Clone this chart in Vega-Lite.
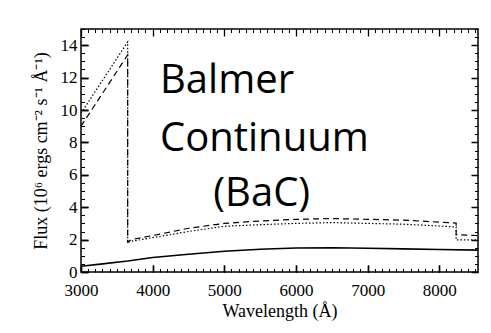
{
  "$schema": "https://vega.github.io/schema/vega-lite/v6.json",
  "width": 397,
  "height": 243,
  "autosize": {"type": "none"},
  "padding": {"left": 81, "top": 29, "right": 13, "bottom": 61},
  "background": "white",
  "config": {
    "view": {"stroke": "black", "strokeWidth": 1.5},
    "axis": {"domain": false, "grid": false, "tickColor": "black", "tickWidth": 1.5, "gridColor": "black", "gridOpacity": 1, "gridWidth": 1.3, "format": "d", "labelColor": "black", "titleColor": "black", "labelFont": "Liberation Serif", "titleFont": "Liberation Serif", "labelFontSize": 17, "titleFontSize": 18, "titleFontWeight": "normal"}
  },
  "datasets": {
    "solid": [
      {"w": 3000, "f": 0.35, "i": 0}, {"w": 3300, "f": 0.5, "i": 1}, {"w": 3651, "f": 0.68, "i": 2},
      {"w": 4000, "f": 0.9, "i": 3}, {"w": 4500, "f": 1.1, "i": 4}, {"w": 5000, "f": 1.28, "i": 5},
      {"w": 5500, "f": 1.4, "i": 6}, {"w": 6000, "f": 1.48, "i": 7}, {"w": 6500, "f": 1.5, "i": 8},
      {"w": 7000, "f": 1.47, "i": 9}, {"w": 7500, "f": 1.43, "i": 10}, {"w": 8000, "f": 1.39, "i": 11},
      {"w": 8540, "f": 1.35, "i": 12}
    ],
    "dashed": [
      {"w": 3000, "f": 9.0, "i": 0}, {"w": 3651, "f": 13.4, "i": 1}, {"w": 3651, "f": 1.85, "i": 2},
      {"w": 3700, "f": 2.0, "i": 3}, {"w": 4000, "f": 2.25, "i": 4}, {"w": 4500, "f": 2.7, "i": 5},
      {"w": 5000, "f": 3.0, "i": 6}, {"w": 5500, "f": 3.15, "i": 7}, {"w": 6000, "f": 3.25, "i": 8},
      {"w": 6500, "f": 3.3, "i": 9}, {"w": 7000, "f": 3.25, "i": 10}, {"w": 7500, "f": 3.2, "i": 11},
      {"w": 8000, "f": 3.08, "i": 12}, {"w": 8235, "f": 3.02, "i": 13}, {"w": 8235, "f": 2.3, "i": 14},
      {"w": 8540, "f": 2.25, "i": 15}
    ],
    "dotted": [
      {"w": 3000, "f": 9.8, "i": 0}, {"w": 3651, "f": 14.2, "i": 1}, {"w": 3651, "f": 1.8, "i": 2},
      {"w": 3700, "f": 1.9, "i": 3}, {"w": 4000, "f": 2.12, "i": 4}, {"w": 4500, "f": 2.5, "i": 5},
      {"w": 5000, "f": 2.82, "i": 6}, {"w": 5500, "f": 2.92, "i": 7}, {"w": 6000, "f": 3.0, "i": 8},
      {"w": 6500, "f": 3.05, "i": 9}, {"w": 7000, "f": 3.0, "i": 10}, {"w": 7500, "f": 2.95, "i": 11},
      {"w": 8000, "f": 2.84, "i": 12}, {"w": 8235, "f": 2.78, "i": 13}, {"w": 8235, "f": 1.98, "i": 14},
      {"w": 8540, "f": 1.98, "i": 15}
    ],
    "notes": [
      {"label": "Balmer", "w": 4102, "f": 11.07},
      {"label": "Continuum", "w": 4102, "f": 7.46},
      {"label": "(BaC)", "w": 4846, "f": 4.07}
    ]
  },
  "resolve": {"axis": {"x": "independent", "y": "independent"}},
  "layer": [
    {
      "data": {"name": "solid"},
      "mark": {"type": "line", "color": "black", "strokeWidth": 1.6},
      "encoding": {
        "x": {"field": "w", "type": "quantitative", "scale": {"domain": [3000, 8540], "nice": false, "zero": false},
              "axis": {"orient": "bottom", "values": [3000, 4000, 5000, 6000, 7000, 8000], "tickSize": -7, "labelPadding": 17, "labelFlush": false, "title": "Wavelength (Å)", "titlePadding": 4, "grid": true, "gridDash": [7, 229]}},
        "y": {"field": "f", "type": "quantitative", "scale": {"domain": [0, 15], "nice": false, "zero": false},
              "axis": {"orient": "left", "values": [0, 2, 4, 6, 8, 10, 12, 14], "tickSize": -7, "labelPadding": 11, "labelFlush": false, "title": "Flux (10⁶ ergs cm⁻² s⁻¹ Å⁻¹)", "titlePadding": 10, "grid": true, "gridDash": [7, 383]}},
        "order": {"field": "i"}
      }
    },
    {
      "data": {"name": "dashed"},
      "mark": {"type": "line", "color": "black", "strokeWidth": 1.2, "strokeDash": [6, 4]},
      "encoding": {
        "x": {"field": "w", "type": "quantitative", "axis": null},
        "y": {"field": "f", "type": "quantitative", "axis": null},
        "order": {"field": "i"}
      }
    },
    {
      "data": {"name": "dotted"},
      "mark": {"type": "line", "color": "black", "strokeWidth": 1.2, "strokeDash": [1.5, 2]},
      "encoding": {
        "x": {"field": "w", "type": "quantitative",
              "axis": {"orient": "top", "values": [3000,3100,3200,3300,3400,3500,3600,3700,3800,3900,4000,4100,4200,4300,4400,4500,4600,4700,4800,4900,5000,5100,5200,5300,5400,5500,5600,5700,5800,5900,6000,6100,6200,6300,6400,6500,6600,6700,6800,6900,7000,7100,7200,7300,7400,7500,7600,7700,7800,7900,8000,8100,8200,8300,8400,8500], "ticks": false, "labels": false, "title": null, "grid": true, "gridWidth": 1, "gridDash": [3.5, 236]}},
        "y": {"field": "f", "type": "quantitative",
              "axis": {"orient": "right", "values": [0,0.5,1,1.5,2,2.5,3,3.5,4,4.5,5,5.5,6,6.5,7,7.5,8,8.5,9,9.5,10,10.5,11,11.5,12,12.5,13,13.5,14,14.5,15], "ticks": false, "labels": false, "title": null, "grid": true, "gridWidth": 1, "gridDash": [3.5, 390]}},
        "order": {"field": "i"}
      }
    },
    {
      "data": {"name": "notes"},
      "mark": {"type": "text", "font": "Open Sans", "fontSize": 40, "align": "left", "baseline": "alphabetic", "color": "black"},
      "encoding": {
        "x": {"field": "w", "type": "quantitative", "axis": null},
        "y": {"field": "f", "type": "quantitative", "axis": null},
        "text": {"field": "label"}
      }
    }
  ]
}
